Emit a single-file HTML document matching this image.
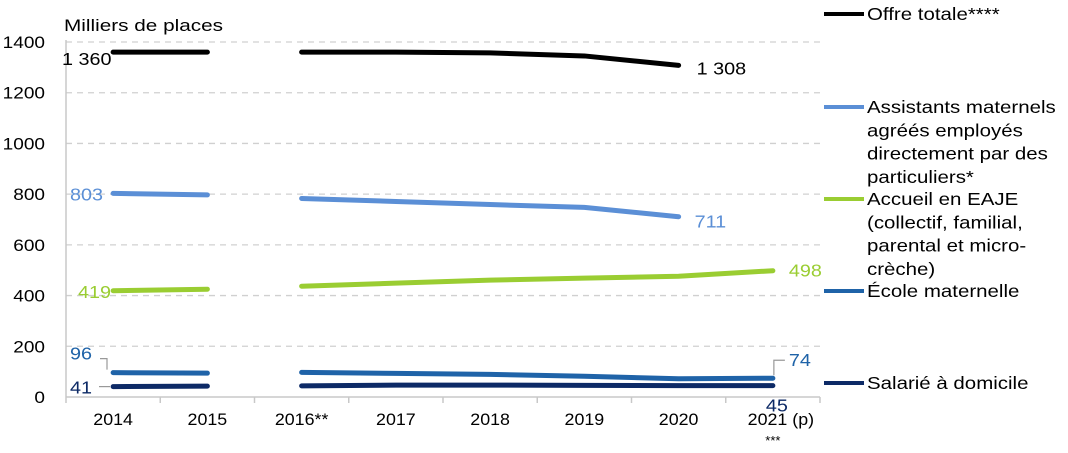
<!DOCTYPE html>
<html><head><meta charset="utf-8"><style>
body{margin:0;background:#fff;font-family:"Liberation Sans",sans-serif}
svg text{font-family:"Liberation Sans",sans-serif}
</style></head><body>
<svg id="chart" width="1068" height="448" viewBox="0 0 1068 448" xmlns="http://www.w3.org/2000/svg"></svg>
<script>
const categories=["2014","2015","2016**","2017","2018","2019","2020","2021 (p)"];
const yTicks=[0,200,400,600,800,1000,1200,1400];
const offreTotale=[1360,1360,1360,1360,1357,1345,1308,null];
const assistants=[803,797,783,771,759,748,711,null];
const eaje=[419,425,437,449,461,469,476,498];
const ecole=[96,94,97,93,89,82,72,74];
const salarie=[41,43,44,47,47,46,45,45];
const NS="http://www.w3.org/2000/svg";
const svg=document.getElementById('chart');
const L=66,R=820,Y0=397,Y1=42,step=(R-L)/categories.length;
const x=i=>L+step*(i+0.5);
const y=v=>Y0-(v/1400)*(Y0-Y1);
function el(t,a,p){const e=document.createElementNS(NS,t);for(const k in a)e.setAttribute(k,a[k]);(p||svg).appendChild(e);return e;}
function txt(s,X,Y,size,fill,anchor,sx,parent){const e=el('text',{x:0,y:0,'font-size':size,fill:fill,'text-anchor':anchor||'start',transform:`translate(${X},${Y}) scale(${sx||1.1},1)`},parent);e.textContent=s;return e;}
yTicks.forEach(v=>{
 if(v>0){const g=el('line',{x1:L,x2:R,y1:y(v),y2:y(v),stroke:'#d0d0d0','stroke-width':1.3,'stroke-dasharray':'6,5'});
 
 }
 const t=txt(String(v),45,y(v)+6,17,'#000','end',1.12);
 
 
});
const ax=el('line',{x1:L,x2:L,y1:Y1-2,y2:Y0,stroke:'#c8c8c8','stroke-width':1.5});


const xa=el('line',{x1:L,x2:R,y1:Y0,y2:Y0,stroke:'#c8c8c8','stroke-width':1.5});


for(let i=0;i<=categories.length;i++){const tk=el('line',{x1:L+step*i,x2:L+step*i,y1:Y0,y2:Y0+6,stroke:'#c8c8c8','stroke-width':1.5});
 
 }
categories.forEach((c,i)=>{const t=txt(c,x(i)+(i==7?8:0),425,17,'#000','middle',1.05);
 
 });
const st=txt('***',x(7),445,13,'#000','middle',1);


const yt=txt('Milliers de places',64,31,17,'#000','start',1.22);


function drawSeries(vals,color,name){
 const segs=[[0,1],[2,7]];
 segs.forEach(([a,b])=>{let pts=[];for(let i=a;i<=b;i++){if(vals[i]!=null)pts.push(x(i)+','+y(vals[i]));}
  if(pts.length>1){const p=el('polyline',{points:pts.join(' '),fill:'none',stroke:color,'stroke-width':5,'stroke-linecap':'round','stroke-linejoin':'round'});
  
  }});
}
drawSeries(salarie,'#0d2a66','salarie');
drawSeries(ecole,'#1f63a8','ecole');
drawSeries(eaje,'#9acd32','eaje');
drawSeries(assistants,'#5b8fd6','assistants');
drawSeries(offreTotale,'#000','offre-totale');
function lab(s,X,Y,c,n,anchor){const t=txt(s,X,Y,18,c,anchor||'start',1.1);
 
 }
lab('1 360',62,y(offreTotale[0])+13,'#000','label-offre-2014');
lab('1 308',x(6)+18,y(offreTotale[6])+9,'#000','label-offre-2020');
lab('803',70,y(assistants[0])+7,'#5b8fd6','label-assistants-2014');
lab('711',x(6)+16,y(assistants[6])+11,'#5b8fd6','label-assistants-2020');
lab('419',78,y(eaje[0])+7,'#9acd32','label-eaje-2014');
lab('498',x(7)+16,y(eaje[7])+6,'#9acd32','label-eaje-2021');
lab('96',70,y(ecole[0])-13,'#1f63a8','label-ecole-2014');
lab('74',x(7)+16,y(ecole[7])-12,'#1f63a8','label-ecole-2021');
lab('41',70,y(salarie[0])+7,'#0d2a66','label-salarie-2014');
lab('45',x(7)+4,y(salarie[7])+26,'#0d2a66','label-salarie-2021','middle');
el('polyline',{points:`100,${y(ecole[0])-14} 107,${y(ecole[0])-14} 107,${y(ecole[0])-3}`,fill:'none',stroke:'#999','stroke-width':1.2});
el('line',{x1:99,x2:110,y1:y(salarie[0]),y2:y(salarie[0]),stroke:'#999','stroke-width':1.2});
el('polyline',{points:`${x(7)+1},${y(ecole[7])-3} ${x(7)+1},${y(ecole[7])-18} ${x(7)+12},${y(ecole[7])-18}`,fill:'none',stroke:'#999','stroke-width':1.2});
const leg=[["#000",["Offre totale****"],14],["#5b8fd6",["Assistants maternels","agréés employés","directement par des","particuliers*"],107],["#9acd32",["Accueil en EAJE","(collectif, familial,","parental et micro-","crèche)"],199],["#1f63a8",["École maternelle"],291],["#0d2a66",["Salarié à domicile"],383]];
leg.forEach(([c,lines,ly],k)=>{
 const g=el('g',{});
 
 
 el('line',{x1:824,x2:864,y1:ly,y2:ly,stroke:c,'stroke-width':4},g);
 lines.forEach((s,j)=>{txt(s,867,ly+6+j*23.3,17.5,'#000','start',1.17,g);});
});
</script>
</body></html>
